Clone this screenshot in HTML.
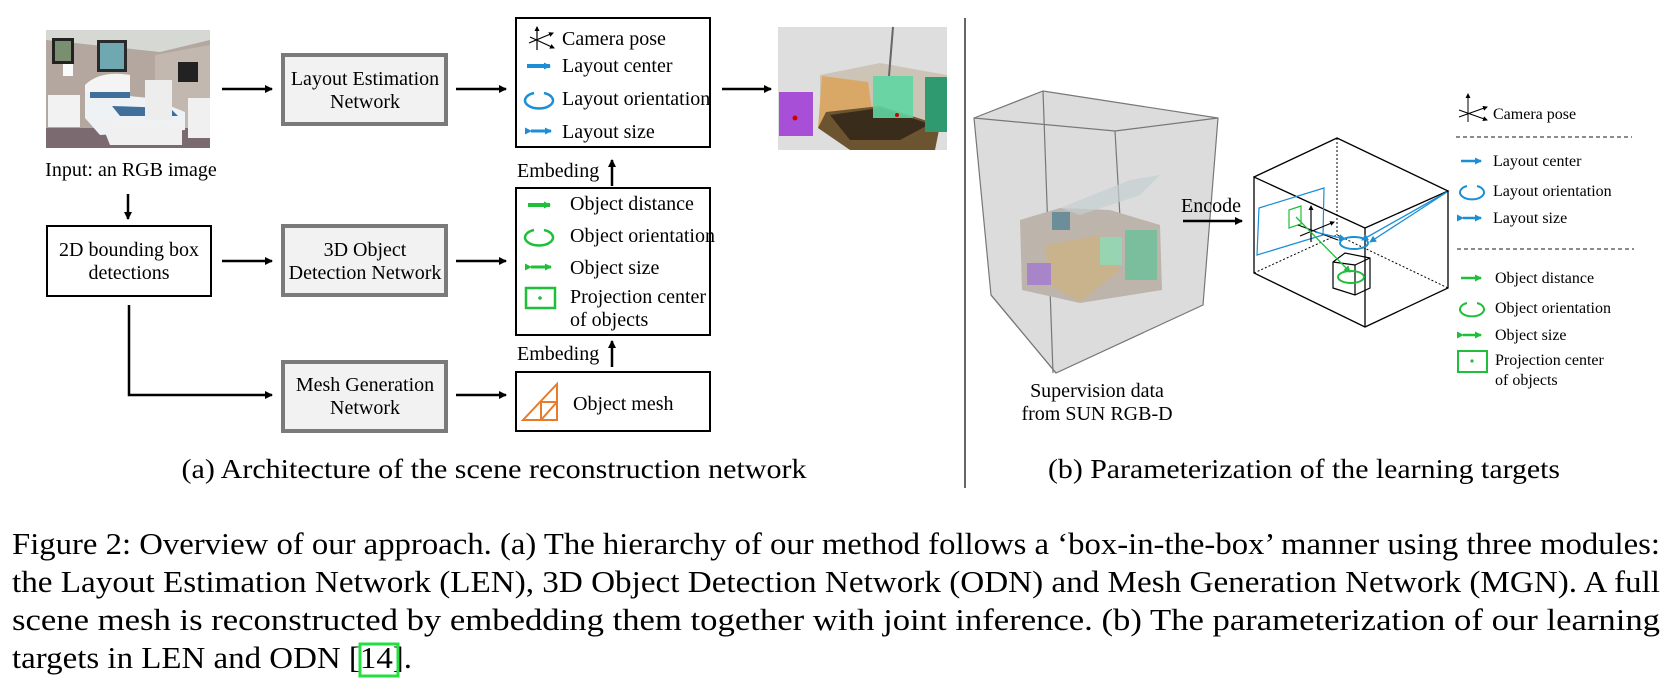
<!DOCTYPE html>
<html><head><meta charset="utf-8"><style>
html,body{margin:0;padding:0;background:#fff;}
svg{display:block;}
text{font-family:"Liberation Serif","Times New Roman",serif;fill:#000;}
</style></head><body>
<svg width="1676" height="688" viewBox="0 0 1676 688" xmlns="http://www.w3.org/2000/svg">
<defs>
<marker id="ah" markerWidth="8" markerHeight="8" refX="7" refY="4" orient="auto" markerUnits="userSpaceOnUse"><path d="M0,0 L8,4 L0,8 Z" fill="#000"/></marker>
<marker id="ab" markerWidth="7" markerHeight="7" refX="6" refY="3.5" orient="auto" markerUnits="userSpaceOnUse"><path d="M0,0 L7,3.5 L0,7 Z" fill="#1a8fd6"/></marker>
<marker id="ag" markerWidth="7" markerHeight="7" refX="6" refY="3.5" orient="auto" markerUnits="userSpaceOnUse"><path d="M0,0 L7,3.5 L0,7 Z" fill="#1fbf3a"/></marker>
<marker id="ak" markerWidth="5" markerHeight="5" refX="4" refY="2.5" orient="auto" markerUnits="userSpaceOnUse"><path d="M0,0 L5,2.5 L0,5 Z" fill="#000"/></marker>
</defs>

<!-- photo -->
<g>
<rect x="46" y="30" width="164" height="118" fill="#b3a79f"/>
<polygon points="46,30 210,30 210,40 160,52 46,40" fill="#d6d8d4"/>
<polygon points="155,55 210,45 210,148 155,148" fill="#c2b8b0"/>
<rect x="46" y="128" width="164" height="20" fill="#7b6a70"/>
<rect x="97" y="40" width="30" height="32" fill="#2a2a2a"/><rect x="100" y="43" width="24" height="26" fill="#6fa8b0"/>
<rect x="52" y="38" width="22" height="26" fill="#222"/><rect x="55" y="41" width="16" height="20" fill="#7a8f70"/>
<rect x="178" y="62" width="20" height="20" fill="#222"/>
<rect x="48" y="95" width="32" height="32" fill="#f2f2f2"/>
<path d="M85,85 Q100,70 130,75 L130,110 L85,110 Z" fill="#f4f4f4"/>
<polygon points="85,92 150,98 185,112 185,130 100,135 85,118" fill="#eef2f4"/>
<polygon points="90,92 130,92 130,98 90,98" fill="#3f6f9a"/>
<polygon points="112,106 170,108 178,116 120,116" fill="#3f6f9a"/>
<polygon points="100,120 182,122 182,145 110,145" fill="#f0f0f0"/>
<rect x="145" y="80" width="27" height="40" fill="#ededed"/>
<rect x="188" y="98" width="22" height="40" fill="#f0f0f0"/>
<rect x="63" y="64" width="10" height="12" fill="#fafafa"/>
</g>
<text x="131" y="176" font-size="20" text-anchor="middle">Input: an RGB image</text>
<line x1="128" y1="194" x2="128" y2="219" stroke="#000" stroke-width="2.5" marker-end="url(#ah)"/>
<rect x="47" y="226" width="164" height="70" fill="#fff" stroke="#000" stroke-width="2"/>
<text x="129" y="256" font-size="20" text-anchor="middle">2D bounding box</text>
<text x="129" y="279" font-size="20" text-anchor="middle">detections</text>
<path d="M129,305 V395 H272" fill="none" stroke="#000" stroke-width="2.5" marker-end="url(#ah)"/>

<!-- network boxes -->
<g fill="#f2f2f2" stroke="#7a7a7a" stroke-width="4">
<rect x="283" y="55" width="163" height="69"/>
<rect x="283" y="226" width="163" height="69"/>
<rect x="283" y="362" width="163" height="69"/>
</g>
<g font-size="20" text-anchor="middle">
<text x="365" y="85">Layout Estimation</text><text x="365" y="108">Network</text>
<text x="365" y="256">3D Object</text><text x="365" y="279">Detection Network</text>
<text x="365" y="391">Mesh Generation</text><text x="365" y="414">Network</text>
</g>
<g stroke="#000" stroke-width="2.5" marker-end="url(#ah)">
<line x1="222" y1="89" x2="272" y2="89"/><line x1="456" y1="89" x2="506" y2="89"/>
<line x1="222" y1="261" x2="272" y2="261"/><line x1="456" y1="261" x2="506" y2="261"/>
<line x1="456" y1="395" x2="506" y2="395"/>
<line x1="722" y1="89" x2="771" y2="89"/>
<line x1="612" y1="186" x2="612" y2="160"/><line x1="612" y1="367" x2="612" y2="341"/>
</g>

<!-- output boxes -->
<g fill="#fff" stroke="#000" stroke-width="2">
<rect x="516" y="18" width="194" height="129"/>
<rect x="516" y="188" width="194" height="147"/>
<rect x="516" y="372" width="194" height="59"/>
</g>
<g stroke="#000" stroke-width="1.2" fill="none">
<line x1="537" y1="50" x2="537" y2="27" marker-end="url(#ak)"/>
<line x1="529" y1="43" x2="553" y2="33" marker-end="url(#ak)"/>
<line x1="530" y1="37" x2="554" y2="48" marker-end="url(#ak)"/>
</g>
<line x1="527" y1="66" x2="550" y2="66" stroke="#1a8fd6" stroke-width="4" marker-end="url(#ab)"/>
<path d="M544,93 A14,8 0 1 1 534,93" fill="none" stroke="#1a8fd6" stroke-width="2.5"/>
<line x1="531" y1="131" x2="551" y2="131" stroke="#1a8fd6" stroke-width="3" marker-end="url(#ab)" marker-start="url(#ab)"/>
<g font-size="20">
<text x="562" y="45">Camera pose</text><text x="562" y="72">Layout center</text>
<text x="562" y="105">Layout orientation</text><text x="562" y="138">Layout size</text>
<text x="570" y="210">Object distance</text><text x="570" y="242">Object orientation</text>
<text x="570" y="274">Object size</text><text x="570" y="303">Projection center</text>
<text x="570" y="326">of objects</text>
<text x="573" y="410">Object mesh</text>
<text x="517" y="177">Embeding</text><text x="517" y="360">Embeding</text>
</g>
<line x1="528" y1="205" x2="550" y2="205" stroke="#1fbf3a" stroke-width="4" marker-end="url(#ag)"/>
<path d="M544,230 A14,8 0 1 1 534,230" fill="none" stroke="#1fbf3a" stroke-width="2.5"/>
<line x1="531" y1="267" x2="551" y2="267" stroke="#1fbf3a" stroke-width="3" marker-end="url(#ag)" marker-start="url(#ag)"/>
<rect x="526" y="288" width="29" height="20" fill="none" stroke="#1fbf3a" stroke-width="2.5"/>
<circle cx="540" cy="298" r="1.8" fill="#1fbf3a"/>
<g fill="none" stroke="#e87a2a" stroke-width="2">
<polygon points="523,420 557,384 557,420"/><line x1="541" y1="402" x2="557" y2="402"/><line x1="541" y1="402" x2="541" y2="420"/><line x1="541" y1="420" x2="557" y2="402"/>
</g>

<!-- render image -->
<g>
<rect x="778" y="27" width="169" height="123" fill="#dedede"/>
<polygon points="820,75 880,63 947,75 947,130 820,130" fill="#cdc4b8"/>
<line x1="893" y1="27" x2="889" y2="76" stroke="#666" stroke-width="2"/>
<polygon points="822,76 868,82 872,110 818,128" fill="#d9a866"/>
<polygon points="826,112 880,106 940,125 935,150 850,150 818,128" fill="#6d5431"/>
<polygon points="830,115 880,108 930,124 900,140 850,140" fill="#3a2c1a"/>
<rect x="873" y="76" width="40" height="42" fill="#5fd6a2" opacity="0.9"/>
<rect x="925" y="77" width="22" height="55" fill="#2f9970"/>
<rect x="779" y="92" width="34" height="44" fill="#a84fd8"/>
<circle cx="795" cy="118" r="2.5" fill="#c00"/><circle cx="897" cy="115" r="2" fill="#c00"/>
</g>

<line x1="965" y1="18" x2="965" y2="488" stroke="#333" stroke-width="1.5"/>

<!-- big gray box -->
<g stroke="#777" stroke-width="1.2">
<polygon points="974,118 1043,91 1218,118 1203,305 1056,373 991,295" fill="#dcdcdc"/>
<polyline points="974,118 1115,131 1218,118" fill="none"/>
<line x1="1115" y1="131" x2="1121" y2="235"/>
<line x1="1043" y1="91" x2="1053" y2="373"/>
<line x1="991" y1="295" x2="1056" y2="373"/>
</g>
<g>
<polygon points="1020,220 1060,208 1110,210 1160,225 1162,290 1080,303 1022,290" fill="#bdb4ab"/>
<polygon points="1045,245 1100,235 1120,270 1080,302 1050,285" fill="#c9b38d"/>
<rect x="1052" y="212" width="18" height="18" fill="#6b8e9a"/>
<rect x="1125" y="230" width="32" height="50" fill="#6fbf9a" opacity="0.85"/>
<rect x="1100" y="237" width="22" height="28" fill="#8fd9b5" opacity="0.85"/>
<rect x="1027" y="263" width="24" height="22" fill="#a885c9"/>
<polygon points="1060,208 1130,180 1160,175 1140,195 1080,215" fill="#c5cfd0" opacity="0.7"/>
</g>
<g font-size="20" text-anchor="middle">
<text x="1097" y="397">Supervision data</text><text x="1097" y="420">from SUN RGB-D</text>
</g>
<text x="1181" y="212" font-size="20">Encode</text>
<line x1="1183" y1="221" x2="1242" y2="221" stroke="#000" stroke-width="2.5" marker-end="url(#ah)"/>

<!-- wireframe box -->
<g fill="none" stroke="#000" stroke-width="1.3">
<polyline points="1254,177 1337,138 1448,191 1365,228 1254,177 1254,273 1365,327 1448,288 1448,191"/>
<line x1="1365" y1="228" x2="1365" y2="327"/>
</g>
<g fill="none" stroke="#000" stroke-width="1" stroke-dasharray="2,2">
<polyline points="1254,273 1337,235 1448,288"/><line x1="1337" y1="138" x2="1337" y2="235"/>
</g>
<polygon points="1259,208 1324,188 1323,235 1257,255" fill="none" stroke="#1a8fd6" stroke-width="1.2"/>
<polygon points="1289,210 1301,206 1301,224 1289,228" fill="none" stroke="#1fbf3a" stroke-width="1.2"/>
<g stroke="#000" stroke-width="1.2">
<line x1="1311" y1="242" x2="1311" y2="206" marker-end="url(#ak)"/>
<line x1="1300" y1="236" x2="1334" y2="222" marker-end="url(#ak)"/>
<line x1="1298" y1="225" x2="1338" y2="240"/>
</g>
<g fill="none" stroke="#000" stroke-width="1.2">
<polygon points="1333,262 1345,253 1370,258 1370,288 1355,295 1333,288"/><line x1="1355" y1="265" x2="1355" y2="295"/><line x1="1333" y1="262" x2="1355" y2="265"/><line x1="1355" y1="265" x2="1370" y2="258"/>
</g>
<ellipse cx="1354" cy="243" rx="14" ry="6" fill="none" stroke="#1a8fd6" stroke-width="2"/>
<line x1="1447" y1="192" x2="1362" y2="240" stroke="#1a8fd6" stroke-width="1.3" marker-end="url(#ab)"/>
<line x1="1447" y1="192" x2="1370" y2="242" stroke="#1a8fd6" stroke-width="1.3" marker-end="url(#ab)"/>
<line x1="1315" y1="232" x2="1345" y2="239" stroke="#1a8fd6" stroke-width="1.3" marker-end="url(#ab)"/>
<line x1="1296" y1="217" x2="1350" y2="272" stroke="#1fbf3a" stroke-width="1.3" marker-end="url(#ag)"/>
<ellipse cx="1351" cy="277" rx="13" ry="6" fill="none" stroke="#1fbf3a" stroke-width="2"/>

<!-- right legend -->
<g stroke="#000" stroke-width="1" fill="none">
<line x1="1468" y1="122" x2="1468" y2="94" marker-end="url(#ak)"/>
<line x1="1459" y1="117" x2="1487" y2="107" marker-end="url(#ak)"/>
<line x1="1459" y1="110" x2="1487" y2="120" marker-end="url(#ak)"/>
</g>
<g stroke="#666" stroke-width="1.5" stroke-dasharray="4,3">
<line x1="1456" y1="137" x2="1632" y2="137"/><line x1="1457" y1="249" x2="1634" y2="249"/>
</g>
<line x1="1461" y1="161" x2="1481" y2="161" stroke="#1a8fd6" stroke-width="2.5" marker-end="url(#ab)"/>
<path d="M1477,186 A12,7 0 1 1 1467,186" fill="none" stroke="#1a8fd6" stroke-width="2"/>
<line x1="1463" y1="218" x2="1481" y2="218" stroke="#1a8fd6" stroke-width="2.5" marker-end="url(#ab)" marker-start="url(#ab)"/>
<line x1="1461" y1="278" x2="1481" y2="278" stroke="#1fbf3a" stroke-width="2.5" marker-end="url(#ag)"/>
<path d="M1477,303 A12,7 0 1 1 1467,303" fill="none" stroke="#1fbf3a" stroke-width="2"/>
<line x1="1463" y1="335" x2="1481" y2="335" stroke="#1fbf3a" stroke-width="2.5" marker-end="url(#ag)" marker-start="url(#ag)"/>
<rect x="1458" y="351" width="29" height="21" fill="none" stroke="#1fbf3a" stroke-width="2"/>
<circle cx="1472" cy="361" r="1.6" fill="#1fbf3a"/>
<g font-size="16">
<text x="1493" y="119">Camera pose</text>
<text x="1493" y="166">Layout center</text>
<text x="1493" y="196">Layout orientation</text>
<text x="1493" y="223">Layout size</text>
<text x="1495" y="283">Object distance</text>
<text x="1495" y="313">Object orientation</text>
<text x="1495" y="340">Object size</text>
<text x="1495" y="365">Projection center</text>
<text x="1495" y="385">of objects</text>
</g>

<!-- captions -->
<text x="494" y="478" font-size="27" text-anchor="middle" textLength="625" lengthAdjust="spacingAndGlyphs">(a) Architecture of the scene reconstruction network</text>
<text x="1304" y="478" font-size="27" text-anchor="middle" textLength="512" lengthAdjust="spacingAndGlyphs">(b) Parameterization of the learning targets</text>
<g font-size="31">
<text x="12" y="554" textLength="1648" lengthAdjust="spacingAndGlyphs">Figure 2: Overview of our approach. (a) The hierarchy of our method follows a ‘box-in-the-box’ manner using three modules:</text>
<text x="12" y="592" textLength="1648" lengthAdjust="spacingAndGlyphs">the Layout Estimation Network (LEN), 3D Object Detection Network (ODN) and Mesh Generation Network (MGN). A full</text>
<text x="12" y="630" textLength="1648" lengthAdjust="spacingAndGlyphs">scene mesh is reconstructed by embedding them together with joint inference.  (b) The parameterization of our learning</text>
<text x="12" y="668" textLength="400" lengthAdjust="spacingAndGlyphs">targets in LEN and ODN [14].</text>
</g>
<rect x="360" y="644" width="38" height="32" fill="none" stroke="#22e040" stroke-width="3"/>
</svg>
</body></html>
